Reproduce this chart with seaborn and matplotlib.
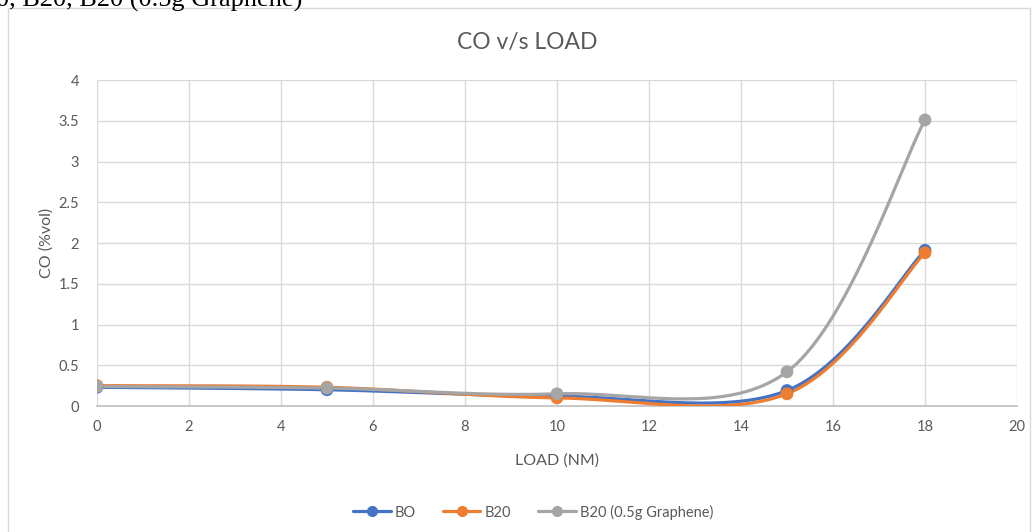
import numpy as np
import pandas as pd
import matplotlib
matplotlib.use("Agg")
import matplotlib.pyplot as plt
from matplotlib.patches import Rectangle
from matplotlib.lines import Line2D
import seaborn as sns

# ---- data ----
load = [0, 5, 10, 15, 18]
co_bo = [0.23, 0.20, 0.12, 0.19, 1.91]
co_b20 = [0.25, 0.23, 0.10, 0.15, 1.88]
co_b20g = [0.24, 0.22, 0.15, 0.42, 3.51]
series_names = ["BO", "B20", "B20 (0.5g Graphene)"]
colors = ["#4472C4", "#ED7D31", "#A5A5A5"]
x_ticks = [0, 2, 4, 6, 8, 10, 12, 14, 16, 18, 20]
y_ticks = [0, 0.5, 1, 1.5, 2, 2.5, 3, 3.5, 4]
y_tick_labels = ["0", "0.5", "1", "1.5", "2", "2.5", "3", "3.5", "4"]

sns.set_theme(style="white")
plt.rcParams['font.family'] = ['Lato', 'DejaVu Sans']

def smooth(xs, ys, n=40):
    """Excel-like smoothed line (Catmull-Rom Bezier) through the points."""
    xs = np.asarray(xs, float); ys = np.asarray(ys, float)
    P = np.column_stack([xs, ys])
    out = []
    for i in range(len(P) - 1):
        p0 = P[i - 1] if i > 0 else P[i]
        p1 = P[i]; p2 = P[i + 1]
        p3 = P[i + 2] if i + 2 < len(P) else P[i + 1]
        c1 = p1 + (p2 - p0) / 6.0
        c2 = p2 - (p3 - p1) / 6.0
        t = np.linspace(0, 1, n)[:, None]
        seg = ((1 - t) ** 3) * p1 + 3 * ((1 - t) ** 2) * t * c1 + 3 * (1 - t) * t ** 2 * c2 + t ** 3 * p2
        out.append(seg if i == 0 else seg[1:])
    s = np.vstack(out)
    return s[:, 0], s[:, 1]

rows = []
for name, vals in zip(series_names, [co_bo, co_b20, co_b20g]):
    for x, y in zip(load, vals):
        rows.append({"LOAD": x, "CO": y, "series": name})
df = pd.DataFrame(rows)

fig = plt.figure(figsize=(10.35, 5.32), dpi=100)
ax = fig.add_axes([0.0937, 0.2368, 0.8889, 0.6128])

# chart area border
fig.patches.append(Rectangle((8 / 1035, -0.01), (1030 - 8) / 1035, 1 - 8 / 532 + 0.01,
                             transform=fig.transFigure, fill=False, edgecolor="#d9d9d9", lw=1))
# cut-off caption text at top of page
fig.text(-0.004, 1 - 7 / 532, "0, B20, B20 (0.5g Graphene)", ha="left", va="baseline",
         family="Liberation Serif", fontsize=19, color="black")

for name, col in zip(series_names, colors):
    sub = df[df["series"] == name]
    sx, sy = smooth(sub["LOAD"], sub["CO"])
    sns.lineplot(x=sx, y=sy, ax=ax, color=col, lw=2.3, sort=False, estimator=None, zorder=3)
sns.scatterplot(data=df, x="LOAD", y="CO", hue="series", palette=colors, ax=ax,
                s=85, edgecolor="none", legend=False, zorder=4)

ax.set_xlim(0, 20)
ax.set_ylim(0, 4)
ax.set_xticks(x_ticks)
ax.set_yticks(y_ticks)
ax.set_yticklabels(y_tick_labels)
ax.grid(True, color="#d9d9d9", lw=1)
ax.set_axisbelow(True)
for s in ["top", "right", "left"]:
    ax.spines[s].set_visible(False)
ax.spines["bottom"].set_color("#bfbfbf")
ax.spines["bottom"].set_linewidth(1.2)
ax.tick_params(axis="y", length=0, labelsize=10.5, colors="#595959", pad=13)
ax.tick_params(axis="x", length=0, labelsize=10.5, colors="#595959", pad=10)
ax.set_xlabel("LOAD (NM)", fontsize=11.5, color="#595959", labelpad=14)
ax.set_ylabel("CO (%vol)", fontsize=11.5, color="#595959", labelpad=3)
fig.text(527 / 1035, 1 - 42 / 532, "CO v/s LOAD", ha="center", va="center",
         fontsize=16.5, color="#595959")

handles = [Line2D([0], [0], color=c, lw=2.3, marker="o", markersize=7) for c in colors]
fig.legend(handles, series_names, loc="center", bbox_to_anchor=(0.515, 1 - 512 / 532), ncol=3,
           frameon=False, fontsize=10.5, labelcolor="#595959", handlelength=2.6,
           handletextpad=0.3, columnspacing=1.8)

fig.savefig("out.png", dpi=100)
